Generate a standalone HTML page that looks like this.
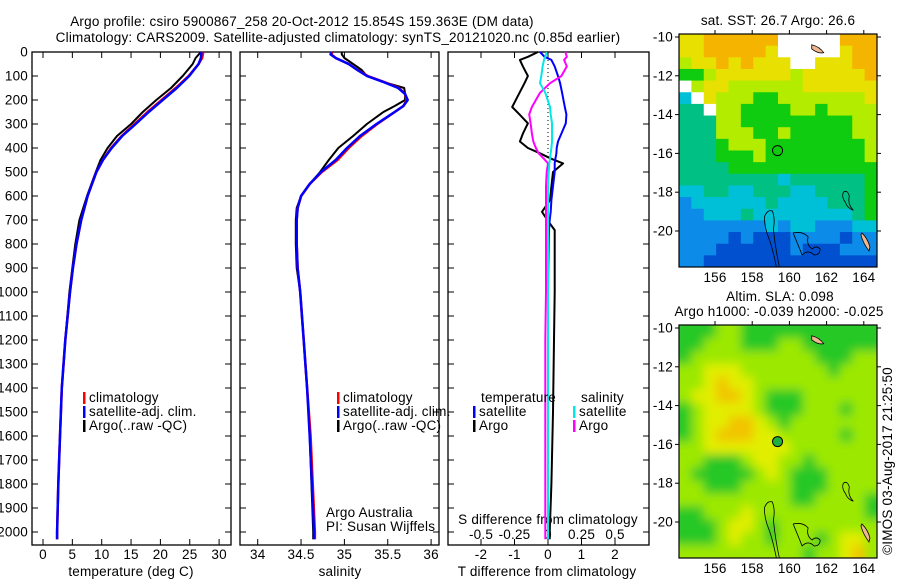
<!DOCTYPE html>
<html><head><meta charset="utf-8"><style>
html,body{margin:0;padding:0;background:#fff;}
svg text{font-family:"Liberation Sans",sans-serif;font-size:13.5px;letter-spacing:0.2px;fill:#000;}
</style></head><body>
<svg id="fig" xmlns="http://www.w3.org/2000/svg" width="900" height="580" viewBox="0 0 900 580">
<text x="302" y="26" text-anchor="middle">Argo profile: csiro 5900867_258 20-Oct-2012 15.854S 159.363E (DM data)</text>
<text x="338" y="42" text-anchor="middle">Climatology: CARS2009. Satellite-adjusted climatology: synTS_20121020.nc (0.85d earlier)</text>
<g id="g"></g>
</svg>
<script>
// ---- data ----
const tDepth=[0,25,50,100,150,200,250,300,350,400,450,500,600,700,800,900,1000,1200,1400,1600,1800,2000,2030];
const tClim=[27.3,27.1,26.5,24.8,22.6,20.2,17.8,15.6,13.4,11.6,10.2,9.1,7.6,6.5,5.7,5.1,4.6,3.8,3.2,2.9,2.6,2.4,2.4];
const tSat=[27.0,26.9,26.5,24.9,22.8,20.4,18.0,15.8,13.5,11.7,10.2,9.1,7.6,6.5,5.7,5.1,4.6,3.8,3.2,2.9,2.6,2.4,2.4];
const tArgo=[26.9,26.0,25.5,23.8,21.8,19.3,17.0,15.0,12.6,11.0,9.8,9.0,7.5,6.2,5.5,5.0,4.5,3.8,3.2,2.9,2.6,2.4,2.4];
const sDepth=[0,10,25,50,75,100,125,150,175,200,225,250,300,350,400,450,500,550,600,650,700,800,900,1000,1200,1400,1600,2000,2030];
const sClim=[34.86,34.85,34.9,35.05,35.15,35.27,35.46,35.63,35.7,35.72,35.68,35.58,35.38,35.2,35.05,34.92,34.74,34.6,34.5,34.46,34.45,34.45,34.46,34.49,34.53,34.57,34.61,34.66,34.66];
const sSat=[34.85,34.84,34.9,35.05,35.15,35.26,35.45,35.62,35.7,35.73,35.68,35.58,35.37,35.18,35.03,34.9,34.73,34.6,34.5,34.46,34.45,34.45,34.46,34.49,34.53,34.57,34.6,34.65,34.65];
const sArgo=[34.97,34.97,35.0,35.1,35.2,35.26,35.45,35.69,35.7,35.7,35.58,35.45,35.26,35.1,34.93,34.82,34.72,34.6,34.5,34.45,34.44,34.44,34.45,34.49,34.53,34.57,34.6,34.64,34.64];
const dDepth=[0,20,33,60,100,130,170,229,260,297,340,373,400,422,445,464,500,560,617,666,700,742,800,896,1000,1200,1500,1800,2000,2030];
const dTArgo=[-0.3,-0.6,-0.84,-0.75,-0.6,-0.7,-0.85,-1.07,-0.85,-0.6,-0.75,-0.84,-0.6,-0.24,0.1,0.45,0.15,0.1,0.06,-0.18,-0.02,0.2,0.2,0.2,0.2,0.18,0.15,0.1,0.05,0.05];
const dTSat=[-0.24,-0.1,0.1,0.2,0.3,0.36,0.42,0.5,0.55,0.53,0.4,0.3,0.26,0.25,0.22,0.2,0.2,0.15,0.1,0.08,0.05,0.03,0.02,0.01,0,0,0,0,0,0];
const dSArgo=[0.13,0.14,0.12,0.14,0.1,0.015,-0.06,-0.12,-0.14,-0.13,-0.12,-0.11,-0.09,-0.07,-0.03,0,-0.01,-0.015,-0.015,-0.015,-0.015,-0.015,-0.015,-0.015,-0.015,-0.02,-0.02,-0.02,-0.02,-0.02];
const dSSat=[-0.01,-0.02,-0.03,-0.04,-0.05,-0.06,-0.02,0.015,0.02,0.03,0.03,0.03,0.025,0.02,0.015,0.01,0.005,0,0,0,0,0,0,0,0,0,0,0,0,0];
const depthTicks=[0,100,200,300,400,500,600,700,800,900,1000,1100,1200,1300,1400,1500,1600,1700,1800,1900,2000];
const tTicks=[0,5,10,15,20,25,30];
const sTicks=[34,34.5,35,35.5,36];
const sTickLabels=["34","34.5","35","35.5","36"];
const dTTicks=[-2,-1,0,1,2];
const dSTicks=[-0.5,-0.25,0,0.25,0.5];
const lonTicks=[156,158,160,162,164];
const latTicks=[-10,-12,-14,-16,-18,-20];
const sstGrid=["YYOOOOOOWWWWWOOO","YYOOOOOYWWWWWYOO","LYYOYOYYYWWYYYOO","GGLYYYYYYLYYYYYO","WLYYLLLLLLYYYYYY","CWYLLLGGLLLLLLLY","TTWLLGGGGLLGLLLL","TTTLLGGGGGGGGGLL","TTTLLLGGLGGGGGLL","TTTGLLLGGGGGGGGL","TTTGGGLGGGGGGGGL","TTTTGGGGGGGGGGGG","TTTTTTTTCTTTTTTG","CCTTCCTTTCCTTTTG","BCCCCCCTCCCCTTTG","BBCCCTCCCCCCCCTG","BBBBBBBCBCCBBBCC","BBBBDBDDDBBBBDBB","BBBDDDDDDBDDDBBB","BBDDDDDDDDDDDDDD"];
const slaGrid=["GGGLLGGGGGGGGGGG","GGLLLGGGLLGGGGGG","GLLLLLLLLLLGGGLL","LLYYYLLLLLLLGLLL","LLYOYYLLLLLLLLLL","LYYOOYLGGGLLLLLL","GLYYYYLGGGLLLGLL","GLYYOOYLGLLLLLLL","GLYOOOYYLLLLLGLL","LLYYYYYYYLLLLLLL","LLGGGLYYLLGLLLLL","LGGGGGLYLGGGLLLL","LLGGGLLLLGGGLLLL","LLLLLLLLLGGLLLLG","GGLLLYLLLLLLLLLG","GGGLYYLGLLLLLLLL","GGGLYLLGLLLGLYYL","LLLLLLLLLLGLLYOL"];
const sstCol={O:"#f5b400",Y:"#e8e000",L:"#b4ec00",G:"#10cc10",T:"#00c084",C:"#00c0d8",B:"#0c8ce8",D:"#0050d0",W:"#ffffff"};
const slaCol={G:"#28c828",L:"#9ce800",Y:"#e2ee00",O:"#f2c400"};

const NS="http://www.w3.org/2000/svg";
const root=document.getElementById('g');
function mk(tag,attrs,parent){const e=document.createElementNS(NS,tag);for(const k in attrs)e.setAttribute(k,attrs[k]);(parent||root).appendChild(e);return e;}
function txt(x,y,s,anchor,parent){const e=mk('text',{x:x,y:y,'text-anchor':anchor||'start'},parent);e.textContent=s;return e;}

const top0=52, bot0=545;
const yD=d=>top0+d*0.24;
const panels=[{x0:32,x1:231,name:'temperature-panel'},{x0:240,x1:439,name:'salinity-panel'},{x0:448,x1:649,name:'difference-panel'}];
const xT=t=>43+t*5.87;
const xS=s=>257.7+(s-34)*86.7;
const xDT=v=>548+v*33.5;
const xDS=v=>548+v*134;

panels.forEach(p=>{
  const r=mk('rect',{x:p.x0,y:top0,width:p.x1-p.x0,height:bot0-top0,fill:'none',stroke:'#000','stroke-width':1.3});
  
  
  depthTicks.forEach(d=>{
    mk('line',{x1:p.x0,x2:p.x0+6,y1:yD(d),y2:yD(d),stroke:'#000'});
    mk('line',{x1:p.x1-6,x2:p.x1,y1:yD(d),y2:yD(d),stroke:'#000'});
  });
});
depthTicks.forEach(d=>{
  const t=txt(28,yD(d)+4.5,String(d),'end');
  
  
});
function xticks(vals,fx,labels,ylab,tickTop){
  vals.forEach((v,i)=>{
    const x=fx(v);
    mk('line',{x1:x,x2:x,y1:bot0-6,y2:bot0,stroke:'#000'});
    if(tickTop) mk('line',{x1:x,x2:x,y1:top0,y2:top0+6,stroke:'#000'});
    const t=txt(x,ylab,labels?labels[i]:String(v),'middle');
    
    
  });
}
xticks(tTicks,xT,null,559,true);
xticks(sTicks,xS,sTickLabels,559,true);
xticks(dTTicks,xDT,null,559,true);
dSTicks.forEach(v=>{const t=txt(xDS(v),539,String(v),'middle');
  
  });
let t;
t=txt(131,576,'temperature (deg C)','middle');
t=txt(340,576,'salinity','middle');
t=txt(547,576,'T difference from climatology','middle');
t=txt(548,524,'S difference from climatology','middle');
t=txt(326,517,'Argo Australia');
t=txt(326,531,'PI: Susan Wijffels');

function line(depths,vals,fx,color,w,name,dash){
  const pts=depths.map((d,i)=>fx(vals[i]).toFixed(1)+','+yD(d).toFixed(1)).join(' ');
  const a={points:pts,fill:'none',stroke:color,'stroke-width':w,'stroke-linejoin':'round'};
  if(dash)a['stroke-dasharray']=dash;
  const e=mk('polyline',a);
  
  
}
const z=mk('line',{x1:xDT(0),x2:xDT(0),y1:yD(0),y2:yD(450),stroke:'#000','stroke-dasharray':'1,3'});


line(tDepth,tArgo,xT,'#000',2,'temperature-argo-line');
line(tDepth,tClim,xT,'#ff0000',2.5,'temperature-climatology-line');
line(tDepth,tSat,xT,'#0000ff',2.5,'temperature-satellite-line');
line(sDepth,sArgo,xS,'#000',2,'salinity-argo-line');
line(sDepth,sClim,xS,'#ff0000',2.5,'salinity-climatology-line');
line(sDepth,sSat,xS,'#0000ff',2.5,'salinity-satellite-line');
line(dDepth,dTArgo,xDT,'#000',2,'t-diff-argo-line');
line(dDepth,dTSat,xDT,'#0000ff',2,'t-diff-satellite-line');
line(dDepth,dSArgo,xDS,'#ff00ff',2,'s-diff-argo-line');
line(dDepth,dSSat,xDS,'#00e8e8',2,'s-diff-satellite-line');

function legend(x,y,items,name){
  items.forEach((it,i)=>{
    const r=mk('rect',{x:x,y:y+i*14-10,width:2.5,height:12,fill:it[1]});
    
    const tt=txt(x+6,y+i*14,it[0]);
  });
}
legend(83,402,[['climatology','#ff0000'],['satellite-adj. clim.','#0000ff'],['Argo(..raw -QC)','#000']],'legend-temperature');
legend(337,402,[['climatology','#ff0000'],['satellite-adj. clim.','#0000ff'],['Argo(..raw -QC)','#000']],'legend-salinity');
t=txt(481,402,'temperature');
t=txt(581,402,'salinity');
legend(473,416,[['satellite','#0000ff'],['Argo','#000']],'legend-diff-t');
legend(573,416,[['satellite','#00e8e8'],['Argo','#ff00ff']],'legend-diff-s');

const defs=mk('defs',{});
const flt=mk('filter',{id:'blur',x:'-5%',y:'-5%',width:'110%',height:'110%'},defs);
mk('feGaussianBlur',{stdDeviation:5},flt);
function map(top,grid,pal,name,blur,clipId){
  const x0=679,x1=877,y1=top+233;
  const lonX=l=>715+(l-156)*18.6;
  const latY=l=>top+3+(-10-l)*19.4;
  const cp=mk('clipPath',{id:clipId},defs);
  mk('rect',{x:x0,y:top,width:x1-x0,height:y1-top},cp);
  const g=mk('g',{'clip-path':'url(#'+clipId+')'});
  
  const g2=mk('g',blur?{filter:'url(#blur)'}:{},g);
  const rows=grid.length,cols=grid[0].length;
  const cw=(x1-x0)/cols,ch=(y1-top)/rows;
  const pad=blur?8:0;
  grid.forEach((row,r)=>{for(let c=0;c<cols;c++){
    let x=x0+c*cw,y=top+r*ch,w=cw+0.5,h=ch+0.5;
    if(blur){if(c===0){x-=pad;w+=pad;} if(c===cols-1)w+=pad; if(r===0){y-=pad;h+=pad;} if(r===rows-1)h+=pad;}
    const cell=mk('rect',{x:x,y:y,width:w,height:h,fill:pal[row[c]]},g2);
    
  }});
  mk('path',{d:`M${lonX(161.2)},${latY(-10.4)} q8,2 12,8 q-6,1 -12,-4 z`,fill:'#f0b890',stroke:'#000','stroke-width':0.8},g);
  mk('path',{d:`M${lonX(163.9)},${latY(-20.1)} q6,6 8,14 l-1,4 q-6,-8 -8,-16 z`,fill:'#f0b890',stroke:'#000','stroke-width':0.8},g);
  mk('path',{d:`M${lonX(159.3)},${y1} q-4,-20 -8,-30 q-4,-10 -4,-20 q3,-8 8,-6 q3,8 1,18 q2,20 6,38`,fill:'none',stroke:'#000','stroke-width':0.8},g);
  mk('path',{d:`M${lonX(160.2)},${latY(-20.1)} q10,-2 15,4 q-2,8 4,12 q4,-4 8,0 q0,6 -6,6 q-6,-6 -12,0 q-4,-10 -9,-22`,fill:'none',stroke:'#000','stroke-width':0.8},g);
  mk('path',{d:`M${lonX(162.9)},${latY(-18)} q4,-3 6,4 q-2,8 4,14 q-6,-2 -8,-8 q-4,-5 -2,-10`,fill:'none',stroke:'#000','stroke-width':0.8},g);
  const ring=mk('circle',{cx:lonX(159.363),cy:latY(-15.854),r:5,fill:blur?'#20b040':'none',stroke:'#000','stroke-width':1},g);
  
  const fr=mk('rect',{x:x0,y:top,width:x1-x0,height:y1-top,fill:'none',stroke:'#000','stroke-width':1.2});
  
  lonTicks.forEach(l=>{const x=lonX(l);
    mk('line',{x1:x,x2:x,y1:top,y2:top-4,stroke:'#000'});
    const tt=txt(x,y1+15,String(l),'middle');});
  latTicks.forEach(l=>{const y=latY(l);
    mk('line',{x1:x0,x2:x0-4,y1:y,y2:y,stroke:'#000'});
    mk('line',{x1:x1,x2:x1+4,y1:y,y2:y,stroke:'#000'});
    const tt=txt(673,y+4.5,String(l),'end');});
}
map(34,sstGrid,sstCol,'sst-map',false,'c1');
map(325,slaGrid,slaCol,'sla-map',true,'c2');
t=txt(778,25,'sat. SST: 26.7 Argo: 26.6','middle');
t=txt(780,301,'Altim. SLA: 0.098','middle');
t=txt(779,316,'Argo h1000: -0.039 h2000: -0.025','middle');
t=txt(0,0,'©IMOS 03-Aug-2017 21:25:50','middle');t.setAttribute('transform','translate(892,461) rotate(-90)');

</script>
</body></html>
